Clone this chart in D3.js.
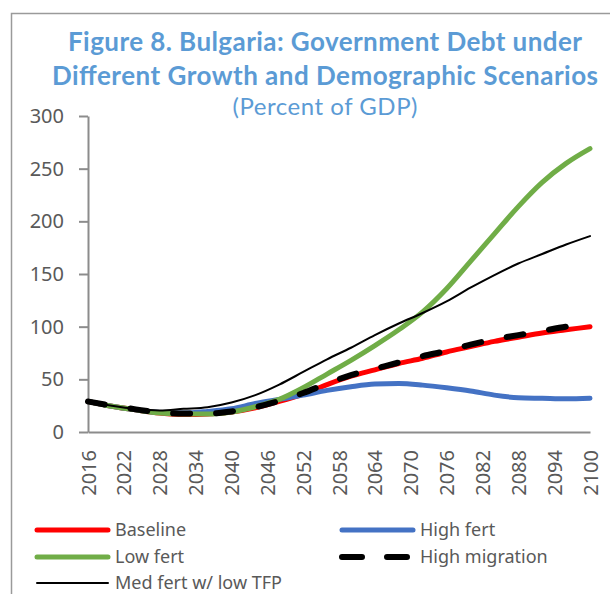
<!DOCTYPE html>
<html>
<head>
<meta charset="utf-8">
<script src="https://cdnjs.cloudflare.com/ajax/libs/d3/7.8.5/d3.min.js"></script>
<style>
  body { margin: 0; background: #fff; }
</style>
</head>
<body>
<div id="chart"></div>
<script>
// values, every 4 years
var years = [2016, 2020, 2024, 2028, 2032, 2036, 2040, 2044, 2048, 2052, 2056,
             2060, 2064, 2068, 2072, 2076, 2080, 2084, 2088, 2092, 2096, 2100];
var baseline = [29, 24.5, 21, 18, 16.5, 17, 19, 23, 29, 36, 45,
                53, 59, 65, 70, 76, 81, 86, 90, 94, 97, 100];
var highFert = [29, 24.5, 21, 18.5, 18, 19.5, 22, 27, 31, 35, 39.5,
                43, 45.5, 46, 44.5, 42, 39, 35, 32.5, 32, 31.5, 32];
var lowFert = [29, 24.5, 21, 18, 17, 17, 19, 24, 31, 42, 55,
               68, 82, 97, 114, 136, 162, 188, 214, 237, 255, 269];
var highMigration = [29, 25, 21.5, 18.5, 17.5, 17.5, 19.5, 23.5, 29.5, 37, 46,
                     54, 60, 66, 72, 77, 83, 88, 92, 96, 100, 103];
var medFertLowTFP = [29, 25, 22, 20.5, 22, 23.5, 28, 35, 45, 57, 69,
                     80, 92, 103, 113, 124, 137, 149, 160, 169, 178, 186];

var xTicks = [2016, 2022, 2028, 2034, 2040, 2046, 2052, 2058, 2064, 2070, 2076, 2082, 2088, 2094, 2100];
var yTicks = [0, 50, 100, 150, 200, 250, 300];

var palette = {
  "red": "#FF0000",
  "blue": "#4472C4",
  "green": "#70AD47",
  "black": "#000000",
  "title": "#5B9BD5",
  "text": "#595959",
  "axis": "#8C8C8C",
  "frame": "#9A9A9A"
};

var series = [
  { name: "Baseline", values: baseline, color: palette.red, width: 5, dash: null },
  { name: "High fert", values: highFert, color: palette.blue, width: 5, dash: null },
  { name: "Low fert", values: lowFert, color: palette.green, width: 5, dash: null },
  { name: "High migration", values: highMigration, color: palette.black, width: 6, dash: "17,26" },
  { name: "Med fert w/ low TFP", values: medFertLowTFP, color: palette.black, width: 2, dash: null }
];

var width = 610, height = 594;
var fontFamily = "'Noto Sans', 'Open Sans', sans-serif";

var svg = d3.select("#chart").append("svg")
    .attr("width", width)
    .attr("height", height);

// frame around the figure (runs off the right and bottom)
svg.append("rect")
    .attr("x", 11.5)
    .attr("y", 13.5)
    .attr("width", 640)
    .attr("height", 640)
    .attr("fill", "none")
    .attr("stroke", palette.frame)
    .attr("stroke-width", 1.5);

// title
var title = svg.append("text")
    .attr("text-anchor", "middle")
    .attr("fill", palette.title)
    .attr("font-family", "Lato, 'Open Sans', sans-serif");
title.append("tspan")
    .attr("x", 325).attr("y", 51)
    .attr("font-size", "26px").attr("font-weight", "bold")
    .attr("textLength", 514)
    .text("Figure 8. Bulgaria: Government Debt under");
title.append("tspan")
    .attr("x", 325).attr("y", 85)
    .attr("font-size", "26px").attr("font-weight", "bold")
    .attr("textLength", 546)
    .text("Different Growth and Demographic Scenarios");
title.append("tspan")
    .attr("x", 325).attr("y", 115)
    .attr("font-size", "24px")
    .attr("textLength", 185)
    .text("(Percent of GDP)");

var x = d3.scaleLinear().domain([2016, 2100]).range([88, 590]);
var y = d3.scaleLinear().domain([0, 300]).range([432, 116]);

// y axis
var yAxis = svg.append("g")
    .attr("transform", "translate(88,0)")
    .call(d3.axisLeft(y).tickValues(yTicks).tickSize(9).tickSizeOuter(0).tickPadding(15));
yAxis.select(".domain").attr("stroke", palette.axis).attr("stroke-width", 2);
yAxis.selectAll(".tick line").attr("stroke", palette.axis).attr("stroke-width", 2);
yAxis.selectAll("text")
    .attr("fill", palette.text)
    .attr("font-size", "20px")
    .attr("font-family", fontFamily);

// x axis
var xAxis = svg.append("g")
    .attr("transform", "translate(0,432)")
    .call(d3.axisBottom(x).tickValues(xTicks).tickSize(0).tickSizeOuter(0).tickFormat(d3.format("d")));
xAxis.select(".domain").attr("stroke", palette.axis).attr("stroke-width", 2);
xAxis.selectAll("text")
    .attr("transform", "rotate(-90)")
    .attr("x", -18)
    .attr("y", 0)
    .attr("dy", "0.35em")
    .style("text-anchor", "end")
    .attr("fill", palette.text)
    .attr("font-size", "20px")
    .attr("font-family", fontFamily);

// lines
var line = d3.line()
    .x(function(d, i) { return x(years[i]); })
    .y(function(d) { return y(d); })
    .curve(d3.curveMonotoneX);

svg.selectAll(".series").data(series).enter()
  .append("path").attr("class", "series")
    .attr("d", function(d) { return line(d.values); })
    .attr("fill", "none")
    .attr("stroke", function(d) { return d.color; })
    .attr("stroke-width", function(d) { return d.width; })
    .attr("stroke-dasharray", function(d) { return d.dash; })
    .attr("stroke-linecap", "round")
    .attr("stroke-linejoin", "round");

// legend
var legendPos = [[37, 530], [342, 530], [37, 557], [342, 557], [37, 583]];
var legend = svg.selectAll(".legend").data(series).enter()
  .append("g").attr("class", "legend")
    .attr("transform", function(d, i) { return "translate(" + legendPos[i][0] + "," + legendPos[i][1] + ")"; });
legend.append("line")
    .attr("x1", 0).attr("x2", 71)
    .attr("y1", 0).attr("y2", 0)
    .attr("stroke", function(d) { return d.color; })
    .attr("stroke-width", function(d) { return d.width; })
    .attr("stroke-dasharray", function(d) { return d.dash ? "20,25" : null; })
    .attr("stroke-linecap", "round");
legend.append("text")
    .attr("x", 78)
    .attr("y", 0)
    .attr("dy", "0.35em")
    .attr("fill", palette.text)
    .attr("font-size", "18px")
    .attr("font-family", fontFamily)
    .text(function(d) { return d.name; });
</script>
</body>
</html>
